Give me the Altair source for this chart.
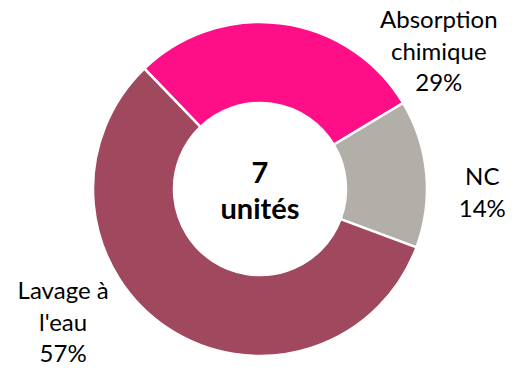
import altair as alt
import pandas as pd

categories = ["Absorption chimique", "NC", "Lavage à l'eau"]
label_texts = ["Absorption\nchimique\n29%", "NC\n14%", "Lavage à\nl'eau\n57%"]
counts = [2, 1, 4]
order_idx = [0, 1, 2]
colors = ["#FF0F87", "#B2AFA8", "#A0485E"]
center_text = "7\nunités"

df = pd.DataFrame({"cat": categories, "n": counts, "ord": order_idx, "lab": label_texts})

start = -0.765
theta_scale = alt.Scale(range=[start, start + 6.283185307])

arcs = alt.Chart(df).mark_arc(
    outerRadius=167, innerRadius=86, stroke="white", strokeWidth=2.5
).encode(
    theta=alt.Theta("n:Q", stack=True, scale=theta_scale),
    order=alt.Order("ord:Q"),
    color=alt.Color("cat:N", scale=alt.Scale(domain=categories, range=colors), legend=None),
)

FONT = "Lato"

lab_base = alt.Chart(df).transform_window(
    cum="sum(n)", sort=[alt.SortField("ord", order="ascending")]
).transform_calculate(
    mid="datum.cum - datum.n / 2"
)

def lab(cat, dx, dy):
    return lab_base.transform_filter(alt.datum.cat == cat).mark_text(
        radius=180, dx=dx, dy=dy, font=FONT, fontSize=24, lineBreak="\n",
        lineHeight=31.5, align="center", baseline="middle", color="#000000"
    ).encode(
        theta=alt.Theta("mid:Q", stack=None, scale=theta_scale),
        text="lab:N",
    )

l1 = lab(categories[0], 155, 10.5)
l2 = lab(categories[1], 43, 6)
l3 = lab(categories[2], -98, -47)

center = alt.Chart(pd.DataFrame({"t": [center_text]})).mark_text(
    font=FONT, fontSize=29, fontWeight="bold", lineBreak="\n", lineHeight=36,
    align="center", baseline="middle", color="#000000", dy=-15
).encode(text="t:N")

chart = alt.layer(arcs, l1, l2, l3, center).properties(
    width=520, height=372,
    padding={"top": 3, "left": 0, "right": 0, "bottom": 0},
    autosize=alt.AutoSizeParams(type="none"),
).configure_view(stroke=None)

chart.save("out.html", embed_options={"renderer": "svg", "actions": False})
